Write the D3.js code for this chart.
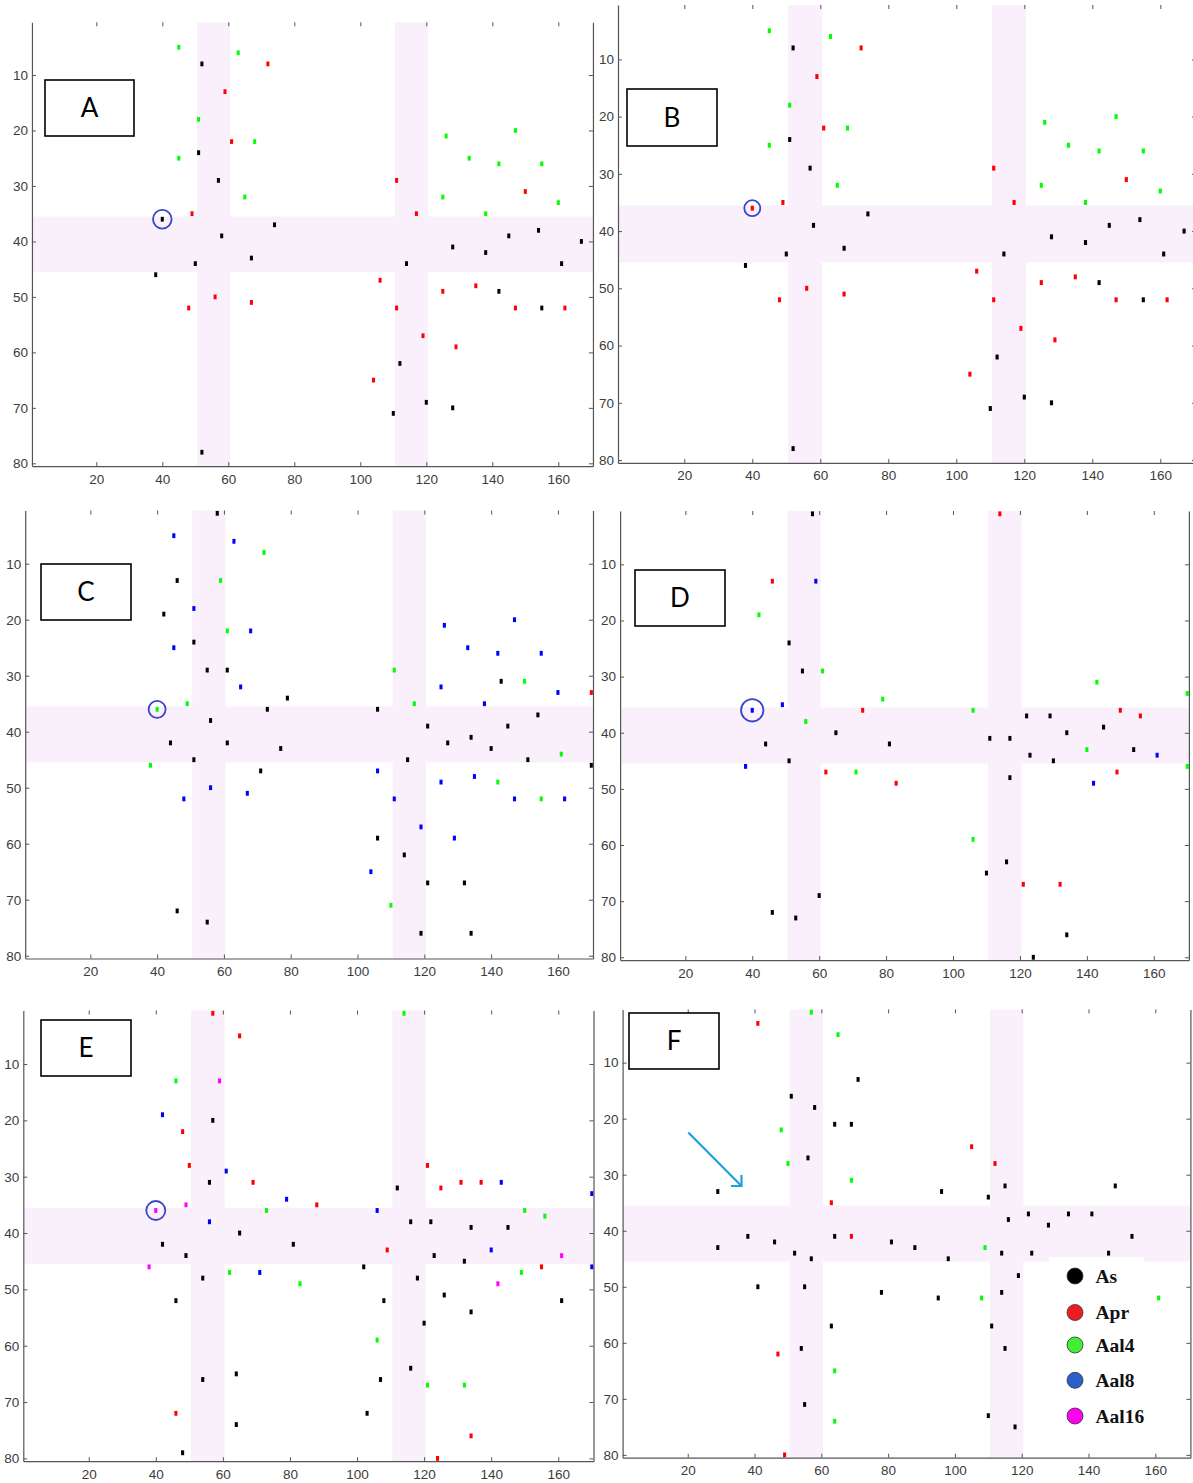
<!DOCTYPE html>
<html>
<head>
<meta charset="utf-8">
<script src="https://cdn.jsdelivr.net/npm/d3@7"></script>
<style>
  html, body { margin: 0; padding: 0; background: #ffffff; }
  svg { display: block; }
</style>
</head>
<body>
<svg id="chart" width="1193" height="1483"></svg>
<script>
// ---------------- DATA ----------------
const xTicks = [20, 40, 60, 80, 100, 120, 140, 160];
const yTicks = [10, 20, 30, 40, 50, 60, 70, 80];
const xDomain = [0.5, 170.5];
const yDomain = [0.5, 80.5];
const bandsX = [[50.5, 60.5], [110.5, 120.5]];
const bandsY = [[35.5, 45.5]];
const seriesNames = ["As", "Apr", "Aal4", "Aal8", "Aal16"];
const panelLabels = ["A", "B", "C", "D", "E", "F"];
const highlightPoint = [40, 36];

// Panel A
const A_As = [[52,8],[51,24],[57,29],[40,36],[74,37],[58,39],[67,43],[50,44],[38,46],[52,78],
  [154,38],[145,39],[167,40],[128,41],[138,42],[114,44],[161,44],[142,49],[155,52],[112,62],[120,69],[128,70],[110,71]];
const A_Apr = [[72,8],[59,13],[61,22],[49,35],[56,50],[67,51],[48,52],
  [111,29],[150,31],[117,35],[106,47],[135,48],[125,49],[111,52],[147,52],[162,52],[119,57],[129,59],[104,65]];
const A_Aal4 = [[45,5],[63,6],[51,18],[68,22],[45,25],[65,32],
  [126,21],[147,20],[133,25],[142,26],[155,26],[125,32],[160,33],[138,35]];

// Panel B
const B_As = [[52,8],[51,24],[57,29],[74,37],[58,39],[67,43],[50,44],[38,46],[52,78],
  [154,38],[145,39],[167,40],[128,41],[138,42],[114,44],[161,44],[142,49],[155,52],[112,62],[120,69],[128,70],[110,71]];
const B_Apr = [[72,8],[59,13],[61,22],[49,35],[40,36],[56,50],[67,51],[48,52],
  [111,29],[150,31],[117,35],[106,47],[135,48],[125,49],[111,52],[147,52],[162,52],[119,57],[129,59],[104,65]];
const B_Aal4 = [[45,5],[63,6],[51,18],[68,22],[45,25],[65,32],
  [126,21],[147,20],[133,25],[142,26],[155,26],[125,32],[160,33],[138,35]];

// Panel C
const C_As = [[58,1],[46,13],[42,19],[51,24],[55,29],[61,29],[79,34],[73,36],[56,38],[44,42],[61,42],[77,43],[51,45],[71,47],[46,72],[55,74],
  [143,31],[106,36],[154,37],[121,39],[145,39],[134,41],[127,42],[140,43],[115,45],[151,45],[170,46],[106,59],[114,62],[121,67],[132,67],[119,76],[134,76]];
const C_Apr = [[170,33]];
const C_Aal4 = [[72,8],[59,13],[61,22],[49,35],[40,36],[38,46],
  [111,29],[150,31],[117,35],[161,44],[142,49],[155,52],[110,71]];
const C_Aal8 = [[45,5],[63,6],[51,18],[68,22],[45,25],[65,32],[56,50],[67,51],[48,52],
  [147,20],[126,21],[133,25],[142,26],[155,26],[125,32],[160,33],[138,35],[106,47],[135,48],[125,49],[111,52],[147,52],[162,52],[119,57],[129,59],[104,65]];

// Panel D
const D_As = [[58,1],[51,24],[55,29],[65,40],[44,42],[81,42],[51,45],[60,69],[46,72],[53,73],
  [122,37],[129,37],[145,39],[134,40],[111,41],[117,41],[154,43],[123,44],[130,45],[117,48],[116,63],[110,65],[134,76],[124,80]];
const D_Apr = [[46,13],[73,36],[62,47],[83,49],
  [114,1],[150,36],[156,37],[149,47],[121,67],[132,67]];
const D_Aal4 = [[42,19],[61,29],[79,34],[56,38],[71,47],
  [143,31],[170,33],[106,36],[140,43],[170,46],[106,59]];
const D_Aal8 = [[59,13],[49,35],[40,36],[38,46],
  [161,44],[142,49]];

// Panel E
const E_As = [[57,20],[56,31],[65,40],[42,42],[81,42],[49,44],[54,48],[46,52],[64,65],[54,66],[64,74],[48,79],
  [112,32],[116,38],[122,38],[134,39],[145,39],[123,44],[132,45],[102,46],[118,48],[126,51],[108,52],[161,52],[134,54],[120,56],[116,64],[107,66],[103,72]];
const E_Apr = [[57,1],[65,5],[48,22],[50,28],[69,31],[46,72],
  [121,28],[131,31],[137,31],[125,32],[88,35],[109,43],[155,46],[134,76],[124,80]];
const E_Aal4 = [[46,13],[73,36],[62,47],[83,49],
  [114,1],[150,36],[156,37],[149,47],[106,59],[121,67],[132,67]];
const E_Aal8 = [[42,19],[61,29],[79,34],[56,38],[71,47],
  [143,31],[170,33],[106,36],[140,43],[170,46]];
const E_Aal16 = [[59,13],[49,35],[40,36],[38,46],
  [161,44],[142,49]];

// Panel F
const F_As = [[71,13],[51,16],[58,18],[64,21],[69,21],[56,27],[29,33],[38,41],[64,41],[46,42],[81,42],[29,43],[52,44],[57,45],[41,50],[55,50],[78,51],[63,57],[54,61],[55,71],
  [115,32],[148,32],[96,33],[110,34],[122,37],[134,37],[141,37],[116,38],[128,39],[153,41],[88,43],[114,44],[123,44],[146,44],[98,45],[119,48],[114,51],[95,52],[111,57],[115,61],[110,73],[118,75]];
const F_Apr = [[41,3],[63,35],[69,41],[47,62],[49,80],[105,25],[112,28]];
const F_Aal4 = [[57,1],[65,5],[48,22],[50,28],[69,31],[64,65],[64,74],[109,43],[108,52],[161,52]];

// ---------------- STYLE / LAYOUT ----------------
const markColors = {As: "#000000", Apr: "#ff0000", Aal4: "#00ff00", Aal8: "#0000ff", Aal16: "#ff00ff"};
const legendColors = {As: "#000000", Apr: "#ec1c24", Aal4: "#44ee33", Aal8: "#2a60c8", Aal16: "#ff00f0"};
const bandColor = "#faf0fc";

const panels = [
  {label: panelLabels[0], series: {As: A_As, Apr: A_Apr, Aal4: A_Aal4},
   frame: {l: 31.95, r: 592.95, t: 22.3, b: 466.1}, box: [45, 80, 134, 136], circleR: 9.3},
  {label: panelLabels[1], series: {As: B_As, Apr: B_Apr, Aal4: B_Aal4},
   frame: {l: 618.0, r: 1196.0, t: 5.0, b: 462.9}, box: [627, 89, 717, 146], circleR: 8},
  {label: panelLabels[2], series: {As: C_As, Apr: C_Apr, Aal4: C_Aal4, Aal8: C_Aal8},
   frame: {l: 25.2, r: 593.0, t: 510.5, b: 958.5}, box: [41, 564, 131, 620], circleR: 8.5},
  {label: panelLabels[3], series: {As: D_As, Apr: D_Apr, Aal4: D_Aal4, Aal8: D_Aal8},
   frame: {l: 620.1, r: 1188.9, t: 511.0, b: 960.1}, box: [635, 570, 725, 626], circleR: 11.2},
  {label: panelLabels[4], series: {As: E_As, Apr: E_Apr, Aal4: E_Aal4, Aal8: E_Aal8, Aal16: E_Aal16},
   frame: {l: 23.3, r: 593.5, t: 1010.5, b: 1461.2}, box: [41, 1020, 131, 1076], circleR: 9.5},
  {label: panelLabels[5], series: {As: F_As, Apr: F_Apr, Aal4: F_Aal4},
   frame: {l: 622.6, r: 1190.4, t: 1009.4, b: 1457.7}, box: [629, 1013, 719, 1069], circleR: 0,
   arrow: true, legend: true}
];

const svg = d3.select("#chart");
svg.append("rect").attr("width", 1193).attr("height", 1483).attr("fill", "#ffffff");

panels.forEach(p => {
  const x = d3.scaleLinear().domain(xDomain).range([p.frame.l, p.frame.r]);
  const y = d3.scaleLinear().domain(yDomain).range([p.frame.t, p.frame.b]);
  const g = svg.append("g").attr("class", "panel-" + p.label);
  const ux = Math.abs(x(1) - x(0));
  const uy = Math.abs(y(1) - y(0));

  // bands
  bandsY.forEach(b => {
    g.append("rect")
      .attr("x", x(xDomain[0])).attr("width", x(xDomain[1]) - x(xDomain[0]))
      .attr("y", y(b[0])).attr("height", y(b[1]) - y(b[0]))
      .attr("fill", bandColor);
  });
  bandsX.forEach(b => {
    g.append("rect")
      .attr("x", x(b[0])).attr("width", x(b[1]) - x(b[0]))
      .attr("y", y(yDomain[0])).attr("height", y(yDomain[1]) - y(yDomain[0]))
      .attr("fill", bandColor);
  });

  // marks
  seriesNames.forEach(name => {
    const pts = p.series[name];
    if (!pts) return;
    g.append("g").selectAll("rect").data(pts).join("rect")
      .attr("x", d => x(d[0]) - ux * 0.46)
      .attr("y", d => y(d[1]) - uy * 0.43)
      .attr("width", ux * 0.92)
      .attr("height", uy * 0.86)
      .attr("fill", markColors[name]);
  });

  // highlight circle
  if (p.circleR > 0) {
    g.append("circle")
      .attr("cx", x(highlightPoint[0])).attr("cy", y(highlightPoint[1]))
      .attr("r", p.circleR)
      .attr("fill", "none").attr("stroke", "#3a46c8").attr("stroke-width", 1.8);
  }

  // axes
  const axisColor = "#555555";
  const textColor = "#3c3c3c";
  const bottom = g.append("g").attr("transform", `translate(0,${p.frame.b})`)
    .call(d3.axisBottom(x).tickValues(xTicks).tickSizeInner(-4).tickSizeOuter(0).tickPadding(8));
  const left = g.append("g").attr("transform", `translate(${p.frame.l},0)`)
    .call(d3.axisLeft(y).tickValues(yTicks).tickSizeInner(-4).tickSizeOuter(0).tickPadding(4));
  const top = g.append("g").attr("transform", `translate(0,${p.frame.t})`)
    .call(d3.axisTop(x).tickValues(xTicks).tickSizeInner(-4).tickSizeOuter(0).tickFormat(""));
  top.select(".domain").remove();
  const right = g.append("g").attr("transform", `translate(${p.frame.r},0)`)
    .call(d3.axisRight(y).tickValues(yTicks).tickSizeInner(-4).tickSizeOuter(0).tickFormat(""));
  [bottom, left, top, right].forEach(a => {
    a.selectAll(".domain").attr("stroke", axisColor).attr("stroke-width", 1.2);
    a.selectAll(".tick line").attr("stroke", axisColor).attr("stroke-width", 1);
    a.selectAll(".tick text")
      .attr("fill", textColor)
      .style("font-family", "'Liberation Sans', Arial, sans-serif")
      .style("font-size", "13.5px");
  });

  // label box
  const [bx0, by0, bx1, by1] = p.box;
  g.append("rect").attr("x", bx0).attr("y", by0).attr("width", bx1 - bx0).attr("height", by1 - by0)
    .attr("fill", "#ffffff").attr("stroke", "#000000").attr("stroke-width", 1.6);
  g.append("text").attr("x", (bx0 + bx1) / 2).attr("y", (by0 + by1) / 2 + 9)
    .attr("text-anchor", "middle")
    .style("font-family", "Lato, 'Open Sans', sans-serif").style("font-size", "26px")
    .attr("fill", "#000").text(p.label);

  // arrow
  if (p.arrow) {
    g.append("path")
      .attr("d", `M688.3,1132.5 L741.5,1186`)
      .attr("stroke", "#1ea0dc").attr("stroke-width", 2.2).attr("fill", "none");
    g.append("path")
      .attr("d", `M731,1186 L741.5,1186 L741.5,1175`)
      .attr("stroke", "#1ea0dc").attr("stroke-width", 2.2).attr("fill", "none");
  }

  // legend
  if (p.legend) {
    const lg = g.append("g");
    lg.append("rect").attr("x", 1049).attr("y", 1257).attr("width", 95).attr("height", 180).attr("fill", "#ffffff");
    const ys = [1276, 1312.5, 1345, 1380.3, 1416];
    seriesNames.forEach((name, i) => {
      lg.append("circle").attr("cx", 1075).attr("cy", ys[i]).attr("r", 8)
        .attr("fill", legendColors[name]).attr("stroke", "#333").attr("stroke-width", 0.8);
      lg.append("text").attr("x", 1095.5).attr("y", ys[i] + 6.5)
        .style("font-family", "'Liberation Serif', 'Times New Roman', serif")
        .style("font-weight", "bold").style("font-size", "19.5px")
        .attr("fill", "#111").text(name);
    });
  }
});
</script>
</body>
</html>
